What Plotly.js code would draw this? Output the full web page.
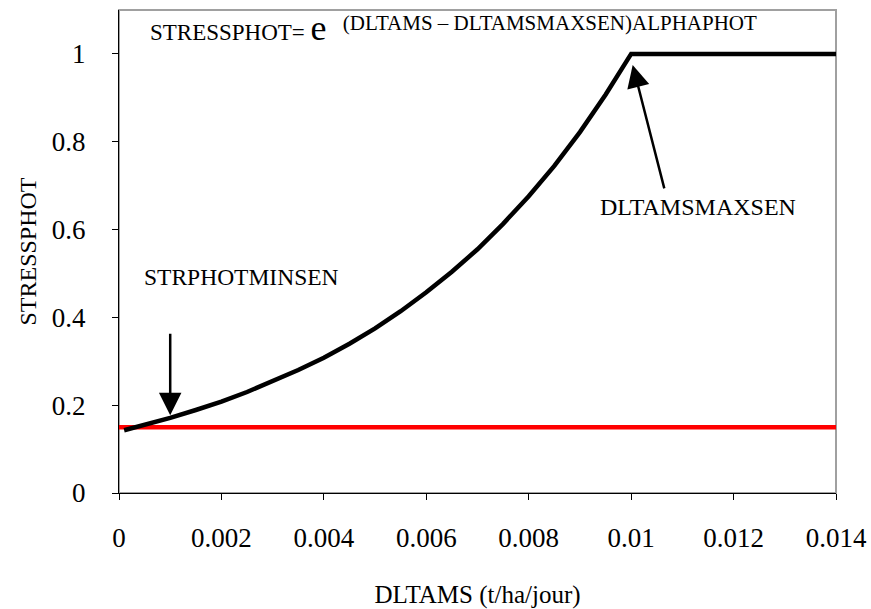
<!DOCTYPE html>
<html>
<head>
<meta charset="utf-8">
<script src="https://cdn.plot.ly/plotly-3.0.1.min.js"></script>
<style>
  html, body { margin: 0; padding: 0; background: #ffffff; }
  #chart { width: 871px; height: 609px; }
</style>
</head>
<body>
<div id="chart"></div>
<script>
// Photosynthesis stress response to daily dry-matter growth (DLTAMS)
const dltams = [0.0001, 0.0005, 0.001, 0.0015, 0.002, 0.0025, 0.003, 0.0035, 0.004, 0.0045,
                0.005, 0.0055, 0.006, 0.0065, 0.007, 0.0075, 0.008, 0.0085, 0.009, 0.0095,
                0.01, 0.014];
const stressphot = [0.143, 0.155, 0.171, 0.189, 0.208, 0.230, 0.254, 0.280, 0.308, 0.340,
                    0.375, 0.414, 0.457, 0.504, 0.555, 0.613, 0.676, 0.745, 0.822, 0.907,
                    1, 1];

// Minimum stress threshold (STRPHOTMINSEN)
const minX = [0, 0.014];
const minY = [0.15, 0.15];

// Annotated key points
const strphotminsenX = 0.001;
const dltamsmaxsenX = 0.01;

const xTicks = [0, 0.002, 0.004, 0.006, 0.008, 0.01, 0.012, 0.014];
const xTickText = ['0', '0.002', '0.004', '0.006', '0.008', '0.01', '0.012', '0.014'];
const yTicks = [0, 0.2, 0.4, 0.6, 0.8, 1];
const yTickText = ['0', '0.2', '0.4', '0.6', '0.8', '1'];

const FAMILY = 'Liberation Serif';

const traces = [
  {
    x: minX, y: minY, type: 'scatter', mode: 'lines',
    line: { color: '#ff0000', width: 4.5 },
    hoverinfo: 'skip', showlegend: false
  },
  {
    x: dltams, y: stressphot, type: 'scatter', mode: 'lines',
    line: { color: '#000000', width: 4.5 },
    hoverinfo: 'skip', showlegend: false
  }
];

// y value of the curve at a given DLTAMS (used to place the lower arrow tip)
function curveAt(xv) {
  for (let i = 0; i < dltams.length - 1; i++) {
    if (xv >= dltams[i] && xv <= dltams[i + 1]) {
      const t = (xv - dltams[i]) / (dltams[i + 1] - dltams[i]);
      return stressphot[i] + t * (stressphot[i + 1] - stressphot[i]);
    }
  }
  return stressphot[stressphot.length - 1];
}

const layout = {
  width: 871, height: 609,
  margin: { l: 119, r: 35, t: 10, b: 116 },
  paper_bgcolor: '#ffffff', plot_bgcolor: '#ffffff',
  font: { family: FAMILY, size: 24, color: '#000000' },
  showlegend: false,
  hovermode: false,
  dragmode: false,
  xaxis: {
    range: [0, 0.014], tickvals: xTicks, ticktext: xTickText,
    ticks: 'outside', ticklen: 6, tickcolor: '#000000', tickwidth: 1,
    showline: true, linecolor: '#000000', linewidth: 1,
    showgrid: false, zeroline: false,
    tickfont: { family: FAMILY, size: 27 },
    ticklabelstandoff: 15,
    title: { text: 'DLTAMS (t/ha/jour)', standoff: 34, font: { family: FAMILY, size: 25 } },
    fixedrange: true
  },
  yaxis: {
    range: [0, 1.1], tickvals: yTicks, ticktext: yTickText,
    ticks: 'outside', ticklen: 6, tickcolor: '#000000', tickwidth: 1,
    showline: true, linecolor: '#000000', linewidth: 1,
    showgrid: false, zeroline: false,
    tickfont: { family: FAMILY, size: 27 },
    ticklabelstandoff: 21,
    title: { text: 'STRESSPHOT', standoff: 8, font: { family: FAMILY, size: 24 } },
    fixedrange: true
  },
  shapes: [
    {
      type: 'rect', xref: 'paper', yref: 'paper', x0: 0, x1: 1, y0: 0, y1: 1,
      line: { color: '#a0a0a0', width: 2 }, layer: 'below'
    }
  ],
  annotations: [
    {
      xref: 'paper', yref: 'paper', x: 0.04, y: 0.963, xanchor: 'left', yanchor: 'middle',
      text: 'STRESSPHOT= <span style="font-size:36px">e</span> <sup><span style="font-size:21px">&nbsp;&nbsp;(DLTAMS – DLTAMSMAXSEN)ALPHAPHOT</span></sup>',
      showarrow: false, font: { family: FAMILY, size: 23 }
    },
    {
      x: 0.0113, y: 0.652, xref: 'x', yref: 'y',
      text: 'DLTAMSMAXSEN', showarrow: false,
      font: { family: FAMILY, size: 24 }
    },
    {
      x: 0.0024, y: 0.492, xref: 'x', yref: 'y',
      text: 'STRPHOTMINSEN', showarrow: false,
      font: { family: FAMILY, size: 23.5 }
    },
    {
      x: strphotminsenX, y: curveAt(strphotminsenX) + 0.006, xref: 'x', yref: 'y',
      text: '', showarrow: true, ax: 0, ay: -83,
      arrowhead: 2, arrowsize: 1.8, arrowwidth: 2.5, arrowcolor: '#000000'
    },
    {
      x: dltamsmaxsenX + 0.00003, y: 0.975, xref: 'x', yref: 'y',
      text: '', showarrow: true, ax: 32, ay: 125,
      arrowhead: 2, arrowsize: 1.8, arrowwidth: 2.5, arrowcolor: '#000000'
    }
  ]
};

Plotly.newPlot('chart', traces, layout, { displayModeBar: false, staticPlot: true });
</script>
</body>
</html>
